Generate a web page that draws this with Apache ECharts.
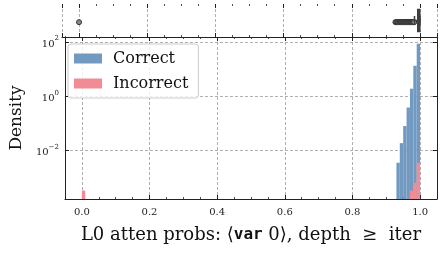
<!DOCTYPE html>
<html><head><meta charset="utf-8">
<script src="https://cdn.jsdelivr.net/npm/echarts@6/dist/echarts.min.js"></script>
<style>html,body{margin:0;padding:0;background:#fff}#c{width:442px;height:256px}</style>
</head><body><div id="c"></div>
<script>
// ---- data ----
const binWidth = 0.01;
const correctBinStarts = [0.93, 0.94, 0.95, 0.96, 0.97, 0.98, 0.99];
const correctDensity   = [0.0036, 0.019, 0.081, 0.39, 1.93, 13.5, 87];
const incorrectBinStarts = [0.0, 0.97, 0.98, 0.99];
const incorrectDensity   = [0.00034, 0.00034, 0.00066, 0.0036];
// boxplot of the combined probabilities: [lowWhisker, Q1, median, Q3, highWhisker]
const boxStats = [0.984, 0.9935, 0.998, 0.9995, 1.0];
const outliers = [0.0, 0.928, 0.931, 0.934, 0.936, 0.939, 0.941, 0.944, 0.946, 0.949, 0.951, 0.953,
  0.955, 0.957, 0.959, 0.961, 0.963, 0.965, 0.967, 0.969, 0.971, 0.973, 0.975, 0.977, 0.979, 0.981, 0.983];
const xTickLabels = ['0.0', '0.2', '0.4', '0.6', '0.8', '1.0'];
const yTickExponents = [-2, 0, 2];
const seriesNames = ['Correct', 'Incorrect'];
const xMin = -0.05, xMax = 1.05;
const yMinExp = -3.78, yMaxExp = 2.19;
const yMin = Math.pow(10, yMinExp), yMax = Math.pow(10, yMaxExp);

const BLUE = '#7299c0', PINK = '#f18b96';
const FONT = 'DejaVu Serif';
const AX = '#222';

function histData(starts, dens) {
  return starts.map((s, i) => [s, s + binWidth, dens[i]]);
}
function histRender(params, api) {
  const p0 = api.coord([api.value(0), api.value(2)]);
  const p1 = api.coord([api.value(1), yMin]);
  return {
    type: 'rect',
    shape: { x: p0[0], y: p0[1], width: p1[0] - p0[0], height: p1[1] - p0[1] },
    style: { fill: api.visual('color') }
  };
}
function boxRender(params, api) {
  const lo = api.value(0), q1 = api.value(1), med = api.value(2), q3 = api.value(3), hi = api.value(4);
  const cy = api.coord([q1, 0.5])[1];
  const bh = 22, capH = 9;
  const x = v => api.coord([v, 0.5])[0];
  const style = { stroke: '#3d3d3d', lineWidth: 1.5 };
  return {
    type: 'group',
    children: [
      { type: 'line', shape: { x1: x(lo), y1: cy, x2: x(q1), y2: cy }, style },
      { type: 'line', shape: { x1: x(q3), y1: cy, x2: x(hi), y2: cy }, style },
      { type: 'line', shape: { x1: x(lo), y1: cy - capH / 2, x2: x(lo), y2: cy + capH / 2 }, style },
      { type: 'line', shape: { x1: x(hi), y1: cy - capH / 2, x2: x(hi), y2: cy + capH / 2 }, style },
      { type: 'rect', shape: { x: x(q1), y: cy - bh / 2, width: x(q3) - x(q1), height: bh },
        style: { fill: '#4a4a4a', stroke: '#3d3d3d', lineWidth: 1.5 } },
      { type: 'line', shape: { x1: x(med), y1: cy - bh / 2, x2: x(med), y2: cy + bh / 2 }, style }
    ]
  };
}
// labels for the decade axis (values are exponents of 10)
function yLabel(v) {
  const e = Math.round(v);
  if (Math.abs(v - e) > 1e-6 || yTickExponents.indexOf(e) < 0) return '';
  return '{b|10}{s|' + (e < 0 ? '\u2212' + (-e) : e) + '}';
}
function xLabel(v) {
  const i = Math.round(v / 0.2);
  if (Math.abs(v - i * 0.2) > 1e-6 || i < 0 || i >= xTickLabels.length) return '';
  return xTickLabels[i];
}

const gridLine = { show: true, lineStyle: { color: '#9a9a9a', width: 0.8, type: [3, 2] } };
const tickIn = { show: true, inside: true, length: 4, lineStyle: { color: AX, width: 1 } };
const minorIn = { show: true, splitNumber: 4, length: 2, lineStyle: { color: AX, width: 0.8 } };
const spine = { show: true, onZero: false, lineStyle: { color: AX, width: 1 } };

const chart = echarts.init(document.getElementById('c'), null, { renderer: 'canvas' });
chart.setOption({
  animation: false,
  backgroundColor: '#fff',
  grid: [
    { left: 62, top: 4, width: 375, height: 33 },
    { left: 62, top: 37, width: 375, height: 162 }
  ],
  legend: {
    data: seriesNames.map((n, i) => ({ name: n, itemStyle: { color: i ? PINK : BLUE } })),
    left: 68, top: 44, orient: 'vertical',
    icon: 'rect', itemWidth: 28, itemHeight: 10, itemGap: 6,
    padding: [5, 10, 5, 6],
    borderColor: '#cccccc', borderWidth: 1, borderRadius: 3,
    backgroundColor: 'rgba(255,255,255,0.8)',
    textStyle: { fontFamily: FONT, fontSize: 16, color: '#111', lineHeight: 19, padding: [0, 0, 0, 6] }
  },
  xAxis: [
    { // top panel, top ticks
      type: 'value', gridIndex: 0, position: 'top', min: xMin, max: xMax,
      axisLine: { show: false, onZero: false }, axisTick: tickIn, minorTick: minorIn,
      axisLabel: { show: false }, splitLine: gridLine
    },
    { // top panel, bottom spine
      type: 'value', gridIndex: 0, position: 'bottom', min: xMin, max: xMax,
      axisLine: spine, axisTick: tickIn, minorTick: minorIn,
      axisLabel: { show: false }, splitLine: { show: false }
    },
    { // main, bottom
      type: 'value', gridIndex: 1, position: 'bottom', min: xMin, max: xMax,
      axisLine: spine, axisTick: tickIn, minorTick: minorIn,
      axisLabel: { formatter: xLabel, fontFamily: FONT, fontSize: 10, color: AX, margin: 8,
        showMinLabel: false, showMaxLabel: false },
      splitLine: gridLine,
      name: '{t|L0 atten probs: \u27E8}{m|var}{t| 0\u27E9, depth  \u2265  iter}',
      nameLocation: 'middle', nameGap: 27,
      nameTextStyle: {
        rich: {
          t: { fontFamily: FONT, fontSize: 18, color: '#111' },
          m: { fontFamily: 'DejaVu Sans Mono', fontWeight: 'bold', fontSize: 16, color: '#111' }
        }
      }
    },
    { // main, top mirror
      type: 'value', gridIndex: 1, position: 'top', min: xMin, max: xMax,
      axisLine: spine, axisTick: tickIn, minorTick: minorIn,
      axisLabel: { show: false }, splitLine: { show: false }
    }
  ],
  yAxis: [
    { type: 'value', gridIndex: 0, min: 0, max: 1, show: false },
    { // main log axis that places the bars
      type: 'log', gridIndex: 1, position: 'left', min: yMin, max: yMax, logBase: 10,
      axisLine: spine, axisTick: { show: false }, minorTick: { show: false },
      axisLabel: { show: false }, splitLine: { show: false }
    },
    { // decade ticks / grid / labels on the left (exponent units, same extent)
      type: 'value', gridIndex: 1, position: 'left', min: yMinExp, max: yMaxExp, splitNumber: 3,
      axisLine: spine, axisTick: tickIn, minorTick: { show: false },
      axisLabel: { formatter: yLabel, margin: 6, showMinLabel: false, showMaxLabel: false,
        rich: {
          b: { fontFamily: FONT, fontSize: 10, color: AX, verticalAlign: 'bottom', lineHeight: 14 },
          s: { fontFamily: FONT, fontSize: 7, color: AX, verticalAlign: 'top', lineHeight: 14 }
        } },
      splitLine: gridLine,
      name: 'Density', nameLocation: 'middle', nameGap: 36,
      nameTextStyle: { fontFamily: FONT, fontSize: 17, color: '#111' }
    },
    { // right mirror
      type: 'value', gridIndex: 1, position: 'right', min: yMinExp, max: yMaxExp, splitNumber: 3,
      axisLine: spine, axisTick: tickIn, axisLabel: { show: false }, splitLine: { show: false }
    }
  ],
  series: [
    {
      name: seriesNames[0], type: 'custom', xAxisIndex: 2, yAxisIndex: 1,
      renderItem: histRender, itemStyle: { color: BLUE },
      encode: { x: [0, 1], y: 2 }, data: histData(correctBinStarts, correctDensity), clip: true, z: 2
    },
    {
      name: seriesNames[1], type: 'custom', xAxisIndex: 2, yAxisIndex: 1,
      renderItem: histRender, itemStyle: { color: PINK },
      encode: { x: [0, 1], y: 2 }, data: histData(incorrectBinStarts, incorrectDensity), clip: true, z: 3
    },
    {
      type: 'scatter', xAxisIndex: 0, yAxisIndex: 0, symbol: 'circle', symbolSize: 5,
      itemStyle: { color: '#8a8a8a', borderColor: '#333', borderWidth: 1, opacity: 1 },
      data: outliers.map(v => [v, 0.45]), z: 3
    },
    {
      type: 'custom', xAxisIndex: 0, yAxisIndex: 0, renderItem: boxRender,
      encode: { x: [0, 1, 2, 3, 4] }, data: [boxStats], z: 4
    }
  ]
});
</script></body></html>
